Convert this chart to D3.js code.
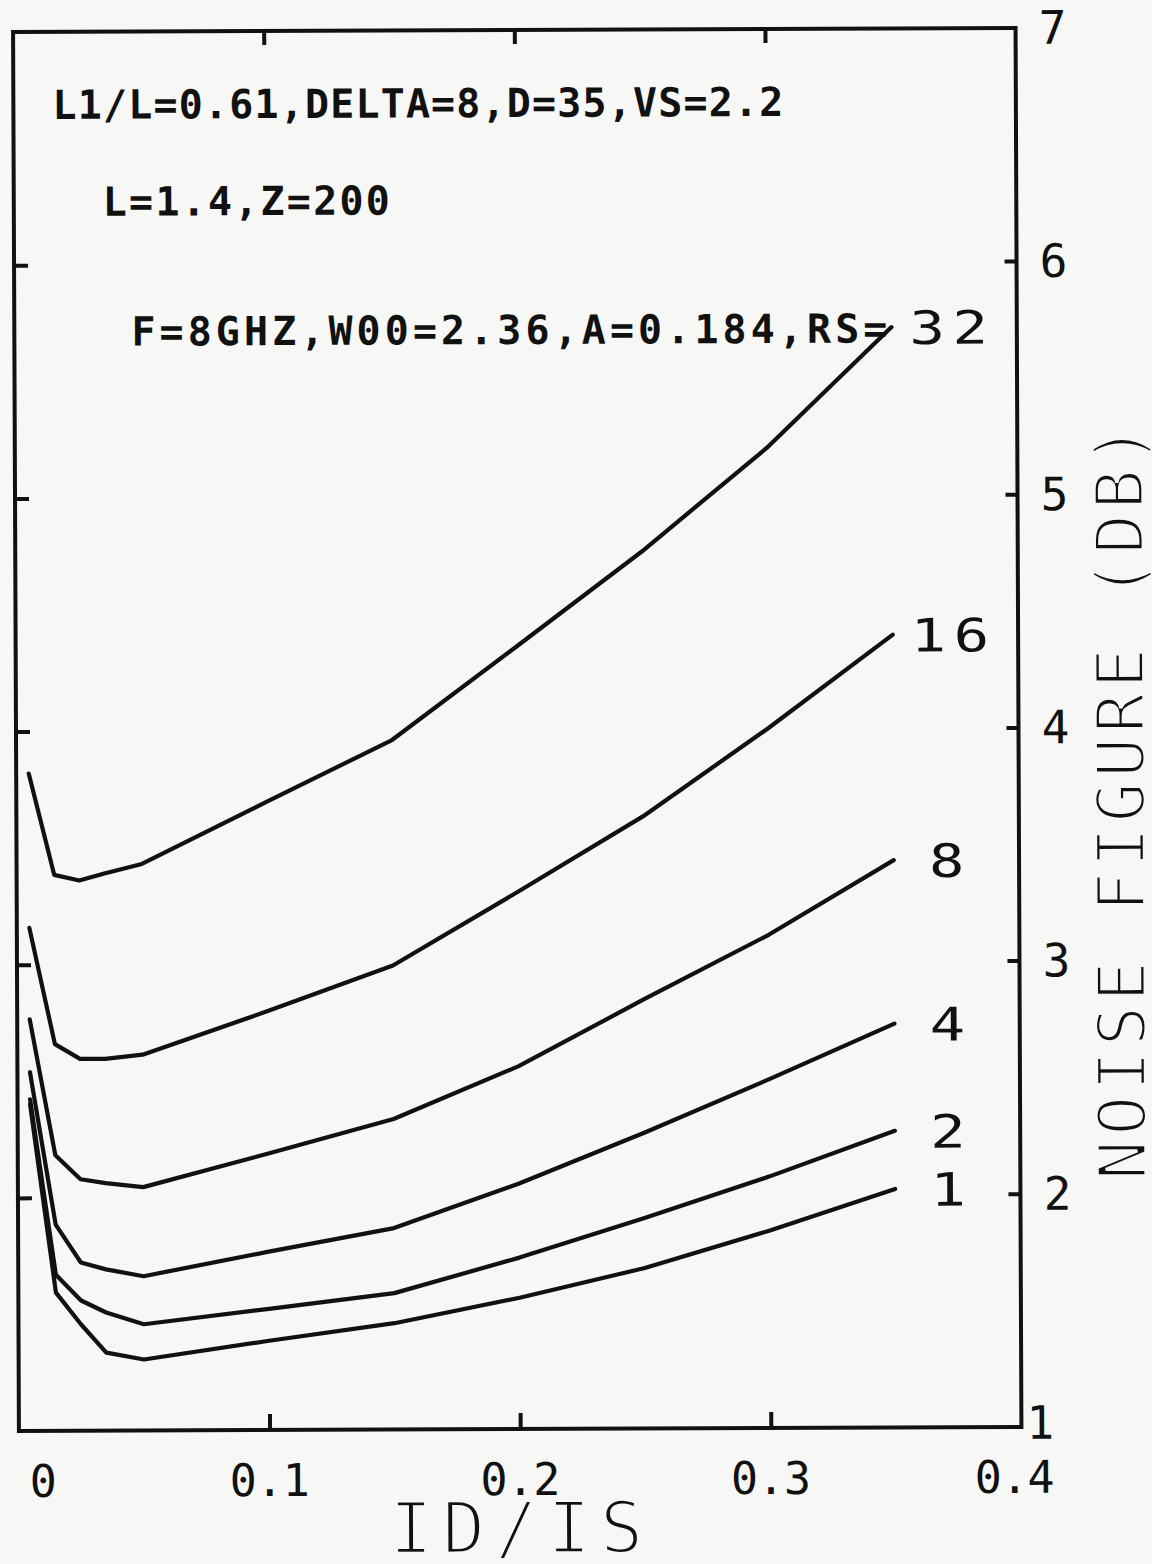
<!DOCTYPE html>
<html>
<head>
<meta charset="utf-8">
<script src="https://cdn.jsdelivr.net/npm/d3@7"></script>
<style>
  html, body { margin: 0; padding: 0; background: #f7f7f5; }
  svg { display: block; }
</style>
</head>
<body>
<svg id="chart" width="1152" height="1564"></svg>
<script>
// Drain current ratio ID/IS at which the noise figure was computed
const idIs = [0.005, 0.015, 0.025, 0.035, 0.05, 0.10, 0.15, 0.20, 0.25, 0.30, 0.35];

// Noise figure (dB) for each source resistance RS
const nfRs32 = [3.82, 3.385, 3.36, 3.39, 3.43, 3.695, 3.957, 4.357, 4.761, 5.203, 5.719];
const nfRs16 = [3.158, 2.659, 2.595, 2.595, 2.612, 2.797, 2.990, 3.304, 3.625, 4.000, 4.400];
const nfRs8  = [2.766, 2.182, 2.079, 2.062, 2.044, 2.186, 2.332, 2.556, 2.840, 3.115, 3.433];
const nfRs4  = [2.539, 1.885, 1.722, 1.692, 1.662, 1.765, 1.864, 2.053, 2.268, 2.496, 2.732];
const nfRs2  = [2.423, 1.670, 1.559, 1.507, 1.456, 1.520, 1.585, 1.735, 1.903, 2.079, 2.272];
const nfRs1  = [2.401, 1.593, 1.456, 1.335, 1.305, 1.383, 1.456, 1.563, 1.688, 1.847, 2.023];

const rsLabels = ["32", "16", "8", "4", "2", "1"];
const rsSeries = [nfRs32, nfRs16, nfRs8, nfRs4, nfRs2, nfRs1];

// Axis ticks and labels
const xTicks = [0, 0.1, 0.2, 0.3, 0.4];
const xTickLabels = ["0", "0.1", "0.2", "0.3", "0.4"];
const yTicks = [1, 2, 3, 4, 5, 6, 7];
const yTickLabels = ["1", "2", "3", "4", "5", "6", "7"];

const xTitle = "ID/IS";
const yTitle = "NOISE FIGURE (DB)";

// Device parameters printed inside the plot
const noteLines = [
  "L1/L=0.61,DELTA=8,D=35,VS=2.2",
  "L=1.4,Z=200",
  "F=8GHZ,W00=2.36,A=0.184,RS="
];

const svg = d3.select("#chart");
const ink = "#111";
const paper = "#f7f7f5";
const mono = "'DejaVu Sans Mono', 'Liberation Mono', monospace";

const x = d3.scaleLinear().domain([0, 0.4]).range([16, 1018.5]);
const y = d3.scaleLinear().domain([1, 7]).range([1429, 30]);

// The whole plot sits very slightly rotated on the sheet
const g = svg.append("g").attr("transform", "rotate(-0.24 517 730)");

// Frame
g.append("rect")
  .attr("x", x(0)).attr("y", y(7))
  .attr("width", x(0.4) - x(0)).attr("height", y(1) - y(7))
  .attr("fill", "none").attr("stroke", ink).attr("stroke-width", 4);

// Inward tick marks on all four sides
const innerX = xTicks.filter(v => v > 0 && v < 0.4);
const innerY = yTicks.filter(v => v > 1 && v < 7);

function cleanAxis(sel) {
  sel.select(".domain").remove();
  sel.selectAll(".tick line").attr("stroke", ink).attr("stroke-width", 4);
  sel.selectAll(".tick text").remove();
}

g.append("g").attr("transform", `translate(0,${y(1)})`)
  .call(d3.axisBottom(x).tickValues(innerX).tickSizeInner(-16).tickSizeOuter(0))
  .call(cleanAxis);
g.append("g").attr("transform", `translate(0,${y(7)})`)
  .call(d3.axisTop(x).tickValues(innerX).tickSizeInner(-14).tickSizeOuter(0))
  .call(cleanAxis);
g.append("g").attr("transform", `translate(${x(0)},0)`)
  .call(d3.axisLeft(y).tickValues(innerY).tickSizeInner(-14).tickSizeOuter(0))
  .call(cleanAxis);
g.append("g").attr("transform", `translate(${x(0.4)},0)`)
  .call(d3.axisRight(y).tickValues(innerY).tickSizeInner(-12).tickSizeOuter(0))
  .call(cleanAxis);

// Curves
const line = d3.line().x(d => x(d[0])).y(d => y(d[1]));
rsSeries.forEach(vals => {
  g.append("path")
    .datum(idIs.map((v, i) => [v, vals[i]]))
    .attr("d", line)
    .attr("fill", "none")
    .attr("stroke", ink)
    .attr("stroke-width", 4.2)
    .attr("stroke-linejoin", "round")
    .attr("stroke-linecap", "round");
});

// RS labels at the end of each curve (wide plotter digits)
const xEnd = idIs[idIs.length - 1];
rsSeries.forEach((vals, i) => {
  const lab = rsLabels[i];
  const cx = x(xEnd) + (lab.length > 1 ? 61 : 53);
  const cy = y(vals[vals.length - 1]) + 17;
  g.append("text")
    .attr("transform", `translate(${cx},${cy}) scale(1.28,1)`)
    .attr("text-anchor", "middle")
    .attr("font-family", mono)
    .attr("font-size", 46)
    .attr("fill", ink)
    .attr("letter-spacing", lab.length > 1 ? 6 : 0)
    .text(lab);
});

// X tick labels
xTicks.forEach((v, i) => {
  const lab = xTickLabels[i];
  const t = g.append("text")
    .attr("x", Math.max(x(v), 40) - (v === 0.4 ? 7 : 0))
    .attr("y", y(1) + 66)
    .attr("text-anchor", "middle")
    .attr("font-family", mono)
    .attr("font-size", 45)
    .attr("fill", ink)
    .text(lab);
  if (lab.length > 1) t.attr("textLength", 80).attr("lengthAdjust", "spacing");
});

// Y tick labels on the right side
yTicks.forEach((v, i) => {
  g.append("text")
    .attr("x", x(0.4) + (v === 1 ? 19 : 37))
    .attr("y", y(v) + (v === 1 ? 12 : 16))
    .attr("text-anchor", "middle")
    .attr("font-family", mono)
    .attr("font-size", 46)
    .attr("fill", ink)
    .text(yTickLabels[i]);
});

// Parameter notes
const notePos = [
  { x: 55, y: 117, len: 731 },
  { x: 105, y: 214, len: 287 },
  { x: 133, y: 344, len: 756 }
];
noteLines.forEach((s, i) => {
  g.append("text")
    .attr("x", notePos[i].x)
    .attr("y", notePos[i].y)
    .attr("font-family", mono)
    .attr("font-weight", "bold")
    .attr("font-size", 40)
    .attr("fill", ink)
    .attr("textLength", notePos[i].len)
    .attr("lengthAdjust", "spacing")
    .text(s);
});

// Axis titles: thin-stroked lettering, thinned with a paper-coloured outline
function thinTitle(sel) {
  sel.attr("font-family", mono)
    .attr("fill", ink)
    .attr("stroke", paper)
    .attr("stroke-width", 3.2)
    .attr("lengthAdjust", "spacing");
}

g.append("text")
  .attr("x", 386).attr("y", 1553)
  .attr("font-size", 72)
  .attr("textLength", 254)
  .call(thinTitle)
  .text(xTitle);

g.append("text")
  .attr("transform", "translate(1144,1183) rotate(-90)")
  .attr("font-size", 67)
  .attr("textLength", 756)
  .call(thinTitle)
  .text(yTitle);
</script>
</body>
</html>
